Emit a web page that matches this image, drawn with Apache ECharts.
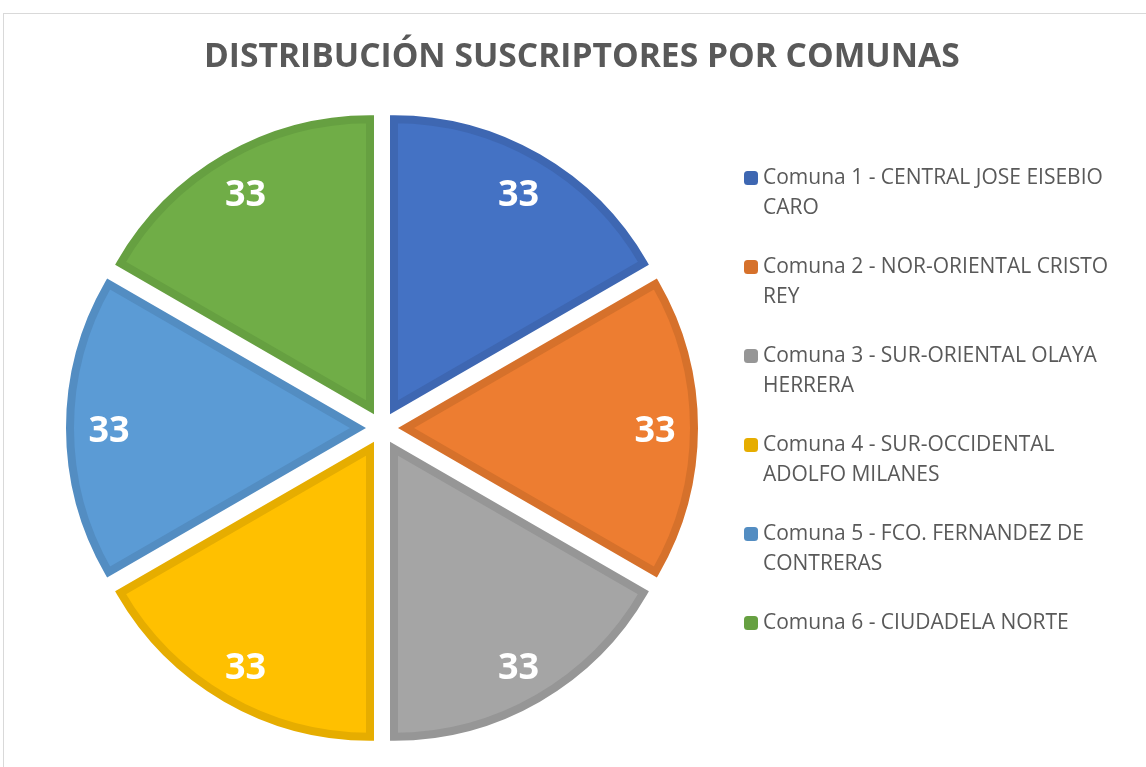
<!DOCTYPE html>
<html>
<head>
<meta charset="utf-8">
<script src="https://cdn.jsdelivr.net/npm/echarts@6/dist/echarts.min.js"></script>
<style>
  html, body { margin: 0; padding: 0; background: #fff; }
  #frame { position: absolute; left: 3px; top: 13px; width: 1200px; height: 800px; border: 1px solid #d9d9d9; }
  #chart { position: absolute; left: 0; top: 0; width: 1146px; height: 767px; }
</style>
</head>
<body>
<div id="frame"></div>
<div id="chart"></div>
<script>
const comunas = [
  'Comuna 1 - CENTRAL JOSE EISEBIO\nCARO',
  'Comuna 2 - NOR-ORIENTAL CRISTO\nREY',
  'Comuna 3 - SUR-ORIENTAL OLAYA\nHERRERA',
  'Comuna 4 - SUR-OCCIDENTAL\nADOLFO MILANES',
  'Comuna 5 - FCO. FERNANDEZ DE\nCONTRERAS',
  'Comuna 6 - CIUDADELA NORTE'
]
const suscriptores = [33, 33, 33, 33, 33, 33]
const fillColors = ['#4472c4', '#ed7d31', '#a5a5a5', '#ffc000', '#5b9bd5', '#70ad47']
const edgeColors = ['#3e67b2', '#d6712b', '#969696', '#e6ad00', '#538dc2', '#66a041']

const chart = echarts.init(document.getElementById('chart'))

const sliceData = comunas.map((name, i) => ({
  name,
  value: suscriptores[i],
  selected: true,
  itemStyle: { color: fillColors[i], borderColor: edgeColors[i] }
}))

const labelData = comunas.map((name, i) => ({
  name,
  value: suscriptores[i],
  selected: true
}))

// keep the swatch level with the first line of each legend entry
const legendText = name => name.includes('\n') ? '\n' + name : '\n' + name + '\n'

const option = {
  animation: false,
  title: {
    text: 'DISTRIBUCIÓN SUSCRIPTORES POR COMUNAS',
    left: 199,
    top: 35,
    textStyle: {
      color: '#595959',
      fontFamily: 'Open Sans',
      fontWeight: 'bold',
      fontSize: 33.6
    }
  },
  legend: {
    orient: 'vertical',
    left: 739,
    top: 128,
    itemWidth: 14,
    itemHeight: 14,
    itemGap: -1,
    formatter: legendText,
    textStyle: {
      color: '#595959',
      fontFamily: 'Open Sans',
      fontSize: 21,
      lineHeight: 30
    },
    data: comunas.map((name, i) => ({
      name,
      itemStyle: { color: edgeColors[i], borderWidth: 0 }
    }))
  },
  series: [
    {
      name: 'Suscriptores',
      type: 'pie',
      center: [382, 428],
      radius: [0, 288],
      startAngle: 90,
      selectedMode: 'multiple',
      selectedOffset: 24,
      itemStyle: { borderWidth: 8, borderJoin: 'miter' },
      label: { show: false },
      labelLine: { show: false },
      emphasis: { disabled: true },
      data: sliceData
    },
    {
      name: 'Etiquetas',
      type: 'pie',
      center: [382, 432],
      radius: [0, 492],
      startAngle: 90,
      silent: true,
      selectedMode: 'multiple',
      selectedOffset: 24,
      itemStyle: { color: 'rgba(0,0,0,0)', borderWidth: 0 },
      label: {
        show: true,
        position: 'inside',
        formatter: '{c}',
        color: '#ffffff',
        fontFamily: 'Open Sans',
        fontWeight: 'bold',
        fontSize: 36
      },
      labelLine: { show: false },
      emphasis: { disabled: true },
      data: labelData
    }
  ]
}

chart.setOption(option)
</script>
</body>
</html>
